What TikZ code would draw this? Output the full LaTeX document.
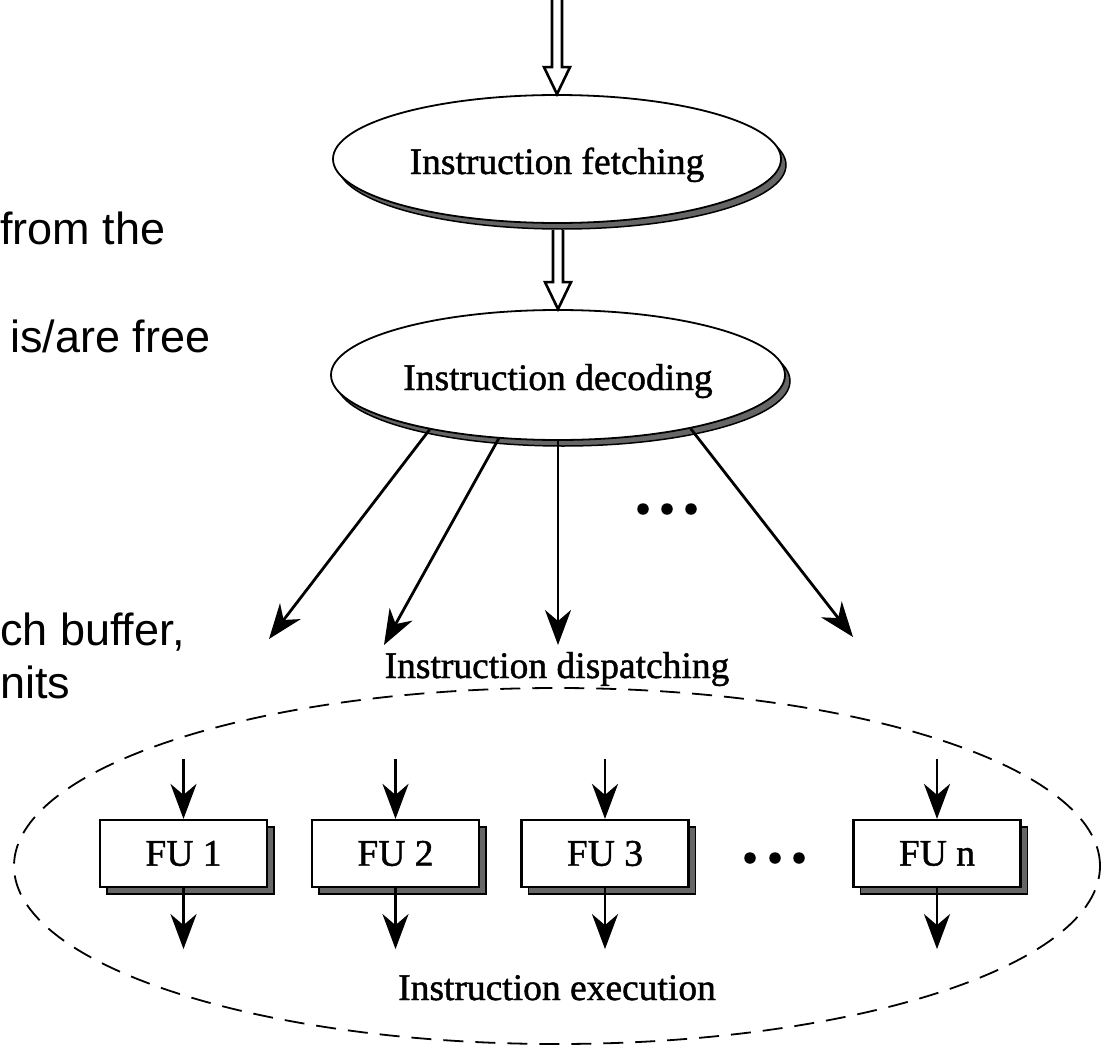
\documentclass[tikz,border=0pt]{standalone}
\usepackage{fontspec}
\setmainfont{Liberation Serif}[FakeBold=1.2]
\newfontfamily\slidefont{Liberation Sans}
\usetikzlibrary{arrows.meta,shapes.geometric,shadows,calc}
\definecolor{shade}{gray}{0.4}
\tikzset{
  stage/.style={ellipse, draw, line width=1.8pt, fill=white, inner sep=0pt,
    text height=40pt, text depth=10pt,
    general shadow={fill=shade, draw=black, line width=1.5pt,
      shadow xshift=5pt, shadow yshift=-6pt}},
  fu/.style={rectangle, draw, line width=2.2pt, fill=white, inner sep=0pt,
    minimum width=167pt, minimum height=67pt,
    general shadow={fill=shade, draw=black, line width=1.6pt,
      shadow xshift=7pt, shadow yshift=-7pt}},
  flow/.style={line width=2.8pt, -{Stealth[length=35pt,width=26pt,inset=11pt]}},
  hollow/.style={line width=2.6pt, line join=miter},
  caption/.style={anchor=base, inner sep=0pt},
  slide/.style={anchor=base west, inner sep=0pt,
    font=\slidefont\fontsize{45}{54}\selectfont},
  dot/.style={circle, fill, inner sep=0pt, minimum size=11.5pt},
  unitgroup/.style={ellipse, draw, line width=1.8pt,
    dash pattern=on 20pt off 12pt, inner sep=0pt},
}
% open double-shafted arrow from #1 down to the tip #2
\newcommand\hollowarrow[2]{%
  \draw[hollow] ($(#2|-#1)+(-5,0)$) -- ($(#2)+(-5,-27)$) -- ($(#2)+(-13,-27)$)
    -- (#2) -- ($(#2)+(13,-27)$) -- ($(#2)+(5,-27)$) -- ($(#2|-#1)+(5,0)$);}
\begin{document}
\begin{tikzpicture}[x=1pt, y=-1pt, font=\fontsize{37.5}{45}\selectfont]
\useasboundingbox (0,0) rectangle (1105,1049);
\fill[white] (0,0) rectangle (1105,1049);

% text of the slide underneath
\node[slide] (s1) at (0,244) {from the};
\node[slide] (s2) at (10,352) {is/are free};
\node[slide] (s3) at (0,645) {ch buffer,};
\node[slide] (s4) at (0,698) {nits};

% fetch and decode stages
\node[stage, minimum width=448pt, minimum height=128pt] (fetch) at (557,159) {Instruction fetching};
\node[stage, minimum width=454pt, minimum height=130pt] (dec) at (558,375) {Instruction decoding};

\coordinate (entry) at (558,0);
\coordinate (fetchbase) at ($(fetch.south)+(0,6)$);
\hollowarrow{entry}{fetch.north}
\hollowarrow{fetchbase}{dec.north}

% dispatch fan-out
\coordinate (t1) at (269,639);
\coordinate (t2) at (384,645);
\coordinate (t3) at (558,645);
\coordinate (t4) at (853,637);
\draw[flow] (dec.203) -- (t1);
\draw[flow] (dec.227) -- (t2);
\draw[flow] (dec.south) -- (t3);
\draw[flow] (dec.-22) -- (t4);
\node[dot] (d1) at (643,509) {};
\node[dot] (d2) at (667,509) {};
\node[dot] (d3) at (691,509) {};
\node[caption] (disp) at (557,678) {Instruction dispatching};

% execution units
\node[unitgroup, minimum width=1086pt, minimum height=356pt] (exec) at (557,866) {};
\node[fu] (fu1) at (183.5,853.5) {FU 1};
\node[fu] (fu2) at (395.5,853.5) {FU 2};
\node[fu] (fu3) at (605,853.5) {FU 3};
\node[fu] (fun) at (937,853.5) {FU n};
\node[dot] (e1) at (750,858) {};
\node[dot] (e2) at (775,858) {};
\node[dot] (e3) at (799,858) {};
\foreach \u in {fu1,fu2,fu3,fun} {
  \coordinate (\u-in) at ($(\u.north)+(0,-60)$);
  \coordinate (\u-out) at ($(\u.south)+(0,61)$);
  \draw[flow] (\u-in) -- (\u.north);
  \draw[flow] (\u.south) -- (\u-out);
}
\node[caption] (execlabel) at (557,1000) {Instruction execution};
\end{tikzpicture}
\end{document}
